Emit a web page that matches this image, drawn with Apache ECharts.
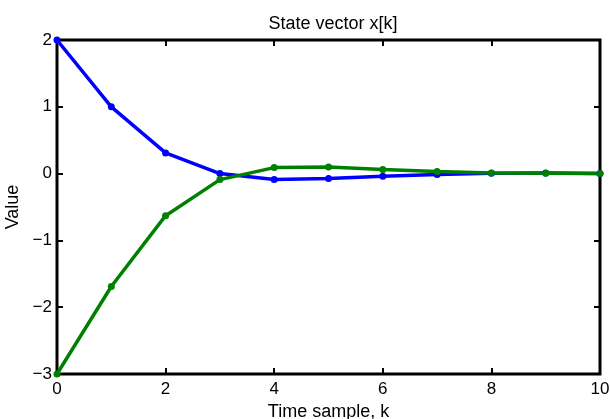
<!DOCTYPE html>
<html>
<head>
<meta charset="utf-8">
<script src="https://cdn.jsdelivr.net/npm/echarts@6/dist/echarts.min.js"></script>
<style>
  html, body { margin: 0; padding: 0; background: #fff; }
  #chart { width: 610px; height: 419px; }
</style>
</head>
<body>
<div id="chart"></div>
<script>
var kSteps = [0, 1, 2, 3, 4, 5, 6, 7, 8, 9, 10];
var state1 = [2, 1, 0.31, 0.0, -0.09, -0.075, -0.04, -0.012, 0.005, 0.01, 0.0];
var state2 = [-3, -1.69, -0.63, -0.09, 0.09, 0.10, 0.06, 0.03, 0.01, 0.005, 0.0];

var font = "'Liberation Sans', Arial, Helvetica, sans-serif";

function pairs(xs, ys) {
  return xs.map(function (x, i) { return [x, ys[i]]; });
}
function minus(v) {
  return String(v).replace('-', '\u2212');
}

var chart = echarts.init(document.getElementById('chart'));

// box is drawn by the grid border, axes only add ticks and labels
var noLine = { show: false, onZero: false };
var tickIn = { show: true, inside: true, length: 6, lineStyle: { color: '#000', width: 2 } };

chart.setOption({
  animation: false,
  title: {
    text: 'State vector x[k]',
    left: 328, top: 10, textAlign: 'center',
    textStyle: { fontFamily: font, fontSize: 18, fontWeight: 'normal', color: '#000' }
  },
  grid: {
    left: 57, right: 10, top: 40, bottom: 45,
    containLabel: false, outerBoundsMode: 'none',
    show: true, borderColor: '#000', borderWidth: 3, backgroundColor: 'transparent'
  },
  xAxis: [{
    type: 'value', min: 0, max: 10, interval: 2, position: 'bottom',
    name: 'Time sample, k', nameLocation: 'middle', nameGap: 26,
    nameTextStyle: { fontFamily: font, fontSize: 18, color: '#000' },
    axisLine: noLine, axisTick: tickIn,
    axisLabel: { fontFamily: font, fontSize: 17, color: '#000', margin: 7 },
    splitLine: { show: false }
  }, {
    type: 'value', min: 0, max: 10, interval: 2, position: 'top',
    axisLine: noLine, axisTick: tickIn,
    axisLabel: { show: false }, splitLine: { show: false }
  }],
  yAxis: [{
    type: 'value', min: -3, max: 2, interval: 1, position: 'left',
    name: 'Value', nameLocation: 'middle', nameGap: 17,
    nameTextStyle: { fontFamily: font, fontSize: 18, color: '#000' },
    axisLine: noLine, axisTick: tickIn,
    axisLabel: { fontFamily: font, fontSize: 17, color: '#000', margin: 5, formatter: minus },
    splitLine: { show: false }
  }, {
    type: 'value', min: -3, max: 2, interval: 1, position: 'right',
    axisLine: noLine, axisTick: tickIn,
    axisLabel: { show: false }, splitLine: { show: false }
  }],
  series: [{
    type: 'line', data: pairs(kSteps, state1),
    symbol: 'circle', symbolSize: 7,
    lineStyle: { color: '#0000ff', width: 3.5 },
    itemStyle: { color: '#0000ff' }
  }, {
    type: 'line', data: pairs(kSteps, state2),
    symbol: 'circle', symbolSize: 7,
    lineStyle: { color: '#008000', width: 3.5 },
    itemStyle: { color: '#008000' }
  }]
});
</script>
</body>
</html>
